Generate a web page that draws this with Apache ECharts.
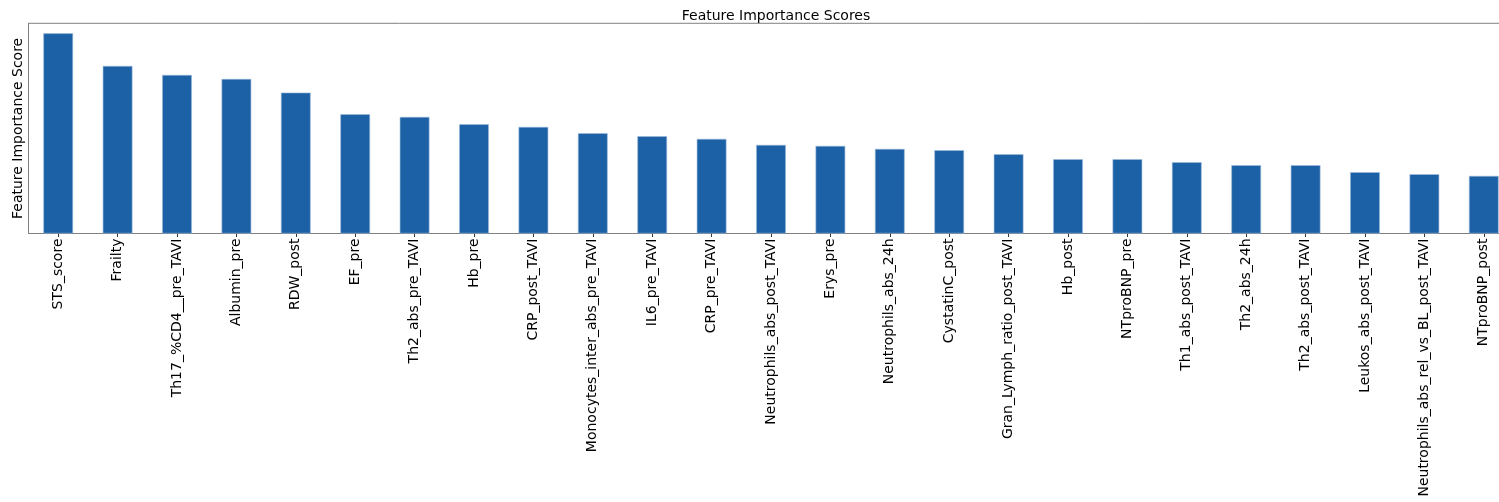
<!DOCTYPE html>
<html>
<head>
<meta charset="utf-8">
<script src="https://cdn.jsdelivr.net/npm/echarts@6/dist/echarts.min.js"></script>
<style>
html,body{margin:0;padding:0;background:#fff;overflow:hidden;}
#chart{width:1530px;height:502px;}
</style>
</head>
<body>
<div id="chart"></div>
<script>
const categories = [
  "STS_score","Frailty","Th17_%CD4__pre_TAVI","Albumin_pre","RDW_post","EF_pre",
  "Th2_abs_pre_TAVI","Hb_pre","CRP_post_TAVI","Monocytes_inter_abs_pre_TAVI",
  "IL6_pre_TAVI","CRP_pre_TAVI","Neutrophils_abs_post_TAVI","Erys_pre",
  "Neutrophils_abs_24h","CystatinC_post","Gran_Lymph_ratio_post_TAVI","Hb_post",
  "NTproBNP_pre","Th1_abs_post_TAVI","Th2_abs_24h","Th2_abs_post_TAVI",
  "Leukos_abs_post_TAVI","Neutrophils_abs_rel_vs_BL_post_TAVI","NTproBNP_post"
];
const importance = [
  0.0601,0.0503,0.0476,0.0464,0.0423,0.0358,
  0.0350,0.0328,0.0320,0.0301,
  0.0292,0.0284,0.0266,0.0263,
  0.0254,0.0250,0.0238,0.0223,
  0.0223,0.0214,0.0205,0.0205,
  0.0184,0.0178,0.0173
];
const titleText = "Feature Importance Scores";
const yLabel = "Feature Importance Score";

const chart = echarts.init(document.getElementById('chart'), null, {renderer:'canvas'});
const yMax = Math.max(...importance) * 1.05;
const font = 'DejaVu Sans';
chart.setOption({
  animation:false,
  backgroundColor:'#ffffff',
  title:{
    text:titleText,
    left:771, top:4, textAlign:'center',
    textStyle:{fontFamily:font,fontSize:14,fontWeight:'normal',color:'#000'}
  },
  grid:{
    left:28.5, top:23.3, width:1485, height:210.2,
    show:true, borderColor:'#808080', borderWidth:1, backgroundColor:'transparent'
  },
  xAxis:{
    type:'category',
    data:categories,
    axisLine:{show:true,lineStyle:{color:'#808080',width:1}},
    axisTick:{show:true,alignWithLabel:true,length:3.5,lineStyle:{color:'#333'}},
    axisLabel:{rotate:90,interval:0,margin:5,fontFamily:font,fontSize:14,color:'#000'}
  },
  yAxis:{
    type:'value',
    min:0, max:yMax,
    name:yLabel,
    nameLocation:'middle',
    nameGap:3,
    nameTextStyle:{fontFamily:font,fontSize:14,color:'#000'},
    axisLine:{show:true,lineStyle:{color:'#808080',width:1}},
    axisTick:{show:false},
    axisLabel:{show:false},
    splitLine:{show:false}
  },
  series:[{
    type:'bar',
    data:importance,
    barWidth:'50%',
    itemStyle:{color:'#1c61a5',borderColor:'#9dbbdc',borderWidth:0.6}
  }]
});
</script>
</body>
</html>
